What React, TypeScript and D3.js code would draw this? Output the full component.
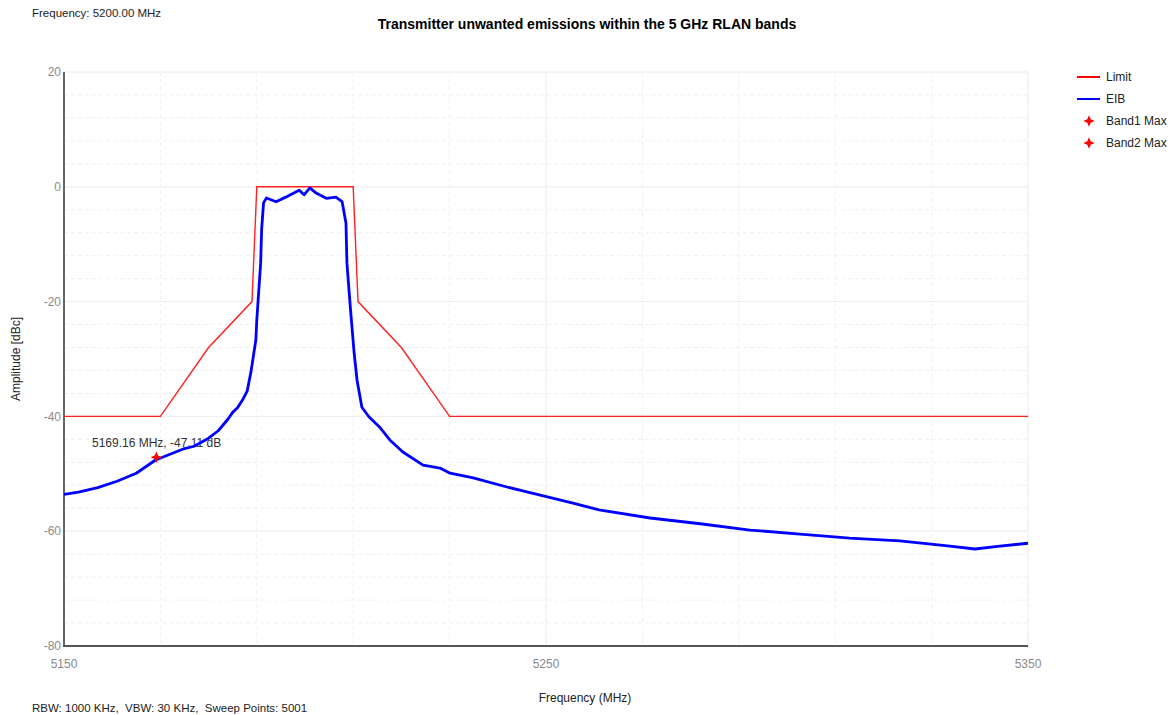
import React from "react";
import * as d3 from "d3";

const title = "Transmitter unwanted emissions within the 5 GHz RLAN bands";
const topNote = "Frequency: 5200.00 MHz";
const bottomNote = "RBW: 1000 KHz,  VBW: 30 KHz,  Sweep Points: 5001";
const xLabel = "Frequency (MHz)";
const yLabel = "Amplitude [dBc]";

const xTicks = [5150, 5250, 5350];
const yTicks = [20, 0, -20, -40, -60, -80];

const limitFreq = [5150, 5170, 5180, 5189, 5190, 5210, 5211, 5220, 5230, 5350];
const limitAmp = [-40, -40, -28, -20, 0, 0, -20, -28, -40, -40];

const eibFreq = [
  5150, 5153, 5157, 5161, 5165, 5169, 5172, 5175, 5177, 5180, 5182, 5184, 5185, 5186, 5187, 5188,
  5188.8, 5189.8, 5190, 5190.8, 5191, 5191.4, 5192, 5194, 5196, 5198.8, 5199.8, 5201, 5202.3,
  5204.4, 5206.4, 5207.7, 5208.5, 5208.7, 5209.5, 5210.2, 5210.8, 5211.8, 5213.3, 5215.4,
  5217.6, 5220.3, 5224.5, 5228, 5230.1, 5234.9, 5241.9, 5248.8, 5255.6, 5261, 5271.6, 5282,
  5292.3, 5302.7, 5313, 5323.4, 5333.8, 5339, 5344.2, 5350,
];
const eibAmp = [
  -53.6, -53.2, -52.4, -51.3, -49.9, -47.6, -46.6, -45.6, -45.2, -43.8, -42.5, -40.5, -39.3, -38.5, -37.2, -35.6,
  -32.2, -26.7, -23.2, -13.3, -7.5, -2.8, -1.95, -2.6, -1.8, -0.6, -1.4, -0.2, -1.1,
  -2.0, -1.8, -2.6, -6.3, -13.3, -22.0, -29.0, -33.7, -38.4, -40.1, -41.8,
  -44.1, -46.2, -48.5, -49.0, -49.9, -50.7, -52.3, -53.7, -55.1, -56.3, -57.7, -58.7,
  -59.8, -60.5, -61.2, -61.7, -62.6, -63.1, -62.6, -62.1,
];

const markerFreq = [5169.16];
const markerAmp = [-47.11];

const legendNames = ["Limit", "EIB", "Band1 Max", "Band2 Max"];

const W = 1176;
const H = 715;
const M = { left: 64, right: 1028, top: 72, bottom: 646 };
const FONT = "'Liberation Sans', Arial, sans-serif";

const star4 = {
  draw(ctx: any, size: number) {
    const r = Math.sqrt(size) * 0.9;
    const i = r * 0.3;
    ctx.moveTo(0, -r);
    ctx.lineTo(i, -i);
    ctx.lineTo(r, 0);
    ctx.lineTo(i, i);
    ctx.lineTo(0, r);
    ctx.lineTo(-i, i);
    ctx.lineTo(-r, 0);
    ctx.lineTo(-i, -i);
    ctx.closePath();
  },
};

export default function App() {
  const x = d3.scaleLinear().domain([5150, 5350]).range([M.left, M.right]);
  const y = d3.scaleLinear().domain([-80, 20]).range([M.bottom, M.top]);

  const minorX = d3.range(5150, 5351, 20);
  const minorY = d3.range(-80, 21, 4);

  const line = d3
    .line<[number, number]>()
    .x((d) => x(d[0]))
    .y((d) => y(d[1]));

  const limitPts = limitFreq.map((f, i) => [f, limitAmp[i]] as [number, number]);
  const eibPts = eibFreq.map((f, i) => [f, eibAmp[i]] as [number, number]);
  const starPath = d3.symbol(star4 as any, 40)() || "";

  return (
    <svg
      width={W}
      height={H}
      style={{ position: "absolute", left: 0, top: 0, background: "#fff" }}
      fontFamily={FONT}
    >
      <rect x={0} y={0} width={W} height={H} fill="#fff" />
      {/* minor grid */}
      {minorX.map((f) => (
        <line key={"mx" + f} x1={x(f)} x2={x(f)} y1={M.top} y2={M.bottom} stroke="#f0f0f0" strokeDasharray="4,3" />
      ))}
      {minorY.map((v) => (
        <line key={"my" + v} x1={M.left} x2={M.right} y1={y(v)} y2={y(v)} stroke="#f0f0f0" strokeDasharray="4,3" />
      ))}
      {/* major grid */}
      {xTicks.map((f) => (
        <line key={"gx" + f} x1={x(f)} x2={x(f)} y1={M.top} y2={M.bottom} stroke="#eeeeee" />
      ))}
      {yTicks.map((v) => (
        <line key={"gy" + v} x1={M.left} x2={M.right} y1={y(v)} y2={y(v)} stroke="#eeeeee" />
      ))}
      {/* axes */}
      <line x1={M.left} x2={M.left} y1={M.top} y2={M.bottom + 1} stroke="#666" strokeWidth={2} />
      <line x1={M.left - 1} x2={M.right} y1={M.bottom} y2={M.bottom} stroke="#555" strokeWidth={2} />
      {yTicks.map((v) => (
        <text key={"ty" + v} x={M.left - 3} y={y(v)} dy="0.35em" textAnchor="end" fontSize={12} fill="#8a8a8a">
          {v}
        </text>
      ))}
      {xTicks.map((f) => (
        <text key={"tx" + f} x={x(f)} y={668} textAnchor="middle" fontSize={12} fill="#8a8a8a">
          {f}
        </text>
      ))}
      {/* annotation */}
      <text x={92} y={447} fontSize={12} fill="#333">
        {`${markerFreq[0].toFixed(2)} MHz, ${markerAmp[0].toFixed(2)} dB`}
      </text>
      {/* series */}
      <path d={line(limitPts) || ""} fill="none" stroke="#ff2020" strokeWidth={1.4} />
      <path d={line(eibPts) || ""} fill="none" stroke="#0000ff" strokeWidth={2.8} strokeLinejoin="round" />
      {markerFreq.map((f, i) => (
        <path key={"m" + i} d={starPath} transform={`translate(${x(f)},${y(markerAmp[i])})`} fill="#ff0000" />
      ))}
      {/* titles */}
      <text x={587} y={29} textAnchor="middle" fontSize={14} fontWeight="bold" fill="#000">
        {title}
      </text>
      <text x={32} y={17} fontSize={11.5} fill="#222">
        {topNote}
      </text>
      <text x={32} y={712} fontSize={11.5} fill="#222" style={{ whiteSpace: "pre" }}>
        {bottomNote}
      </text>
      <text x={585} y={702} textAnchor="middle" fontSize={12} fill="#222">
        {xLabel}
      </text>
      <text transform={`translate(20,${(M.top + M.bottom) / 2}) rotate(-90)`} textAnchor="middle" fontSize={12} fill="#222">
        {yLabel}
      </text>
      {/* legend */}
      {legendNames.map((name, i) => {
        const ly = 77 + i * 22;
        return (
          <g key={name}>
            {i === 0 && <line x1={1077} x2={1100} y1={ly} y2={ly} stroke="#ff0000" strokeWidth={2} />}
            {i === 1 && <line x1={1077} x2={1100} y1={ly} y2={ly} stroke="#0000ff" strokeWidth={2} />}
            {i >= 2 && <path d={starPath} transform={`translate(1089,${ly})`} fill="#ff0000" />}
            <text x={1106} y={ly} dy="0.35em" fontSize={12} fill="#222">
              {name}
            </text>
          </g>
        );
      })}
    </svg>
  );
}
